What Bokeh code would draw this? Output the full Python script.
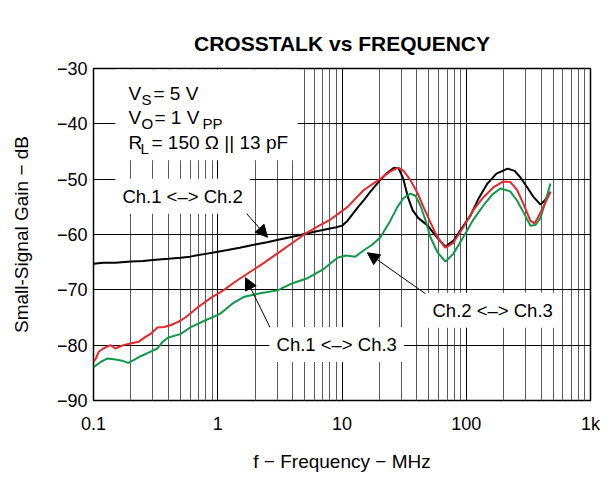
from bokeh.plotting import figure
from bokeh.models import FixedTicker, Label, Arrow, NormalHead, BoxAnnotation, Range1d
from bokeh.embed import file_html
from bokeh.resources import INLINE

# ---- data ----
freq_12 = [0.1, 0.12, 0.15, 0.2, 0.25, 0.3, 0.4, 0.5, 0.6, 0.7, 0.8, 1, 1.2, 1.5, 2, 2.5, 3, 4, 5, 6, 7,
           8, 9, 10, 11, 12, 13.5, 15, 17, 20, 23, 26, 28.5, 31, 34, 37, 41, 49, 58, 68, 79, 90, 108, 125,
           148, 175, 215, 245, 273, 310, 350, 396, 430, 476]
gain_12 = [-65.3, -65.1, -65.1, -64.9, -64.8, -64.6, -64.4, -64.2, -64.0, -63.7, -63.5, -63.1, -62.8, -62.4,
           -61.8, -61.4, -61.0, -60.4, -59.9, -59.5, -59.2, -58.9, -58.7, -58.4, -57.6, -56.5, -55.0, -53.8,
           -52.2, -50.3, -48.9, -48.0, -48.0, -49.8, -53.3, -55.6, -57.0, -58.4, -60.5, -62.2, -61.1, -59.2,
           -56.6, -53.6, -50.8, -49.0, -48.1, -48.5, -49.7, -51.5, -53.3, -54.6, -53.8, -52.3]

freq_13 = [0.1, 0.104, 0.11, 0.12, 0.137, 0.15, 0.165, 0.18, 0.199, 0.23, 0.262, 0.29, 0.327, 0.37, 0.417,
           0.48, 0.55, 0.687, 0.874, 1.11, 1.39, 1.73, 2.29, 3.03, 4.0, 5.27, 6.67, 8.08, 11.1, 14.9, 20.4,
           24.5, 28.4, 31.3, 35.6, 40.5, 45.4, 51.5, 58.6, 68, 78.6, 94.6, 114, 137, 165, 199, 226, 257, 289,
           328, 353, 374, 418, 476]
gain_13 = [-83.0, -82.5, -81.2, -80.6, -80.0, -80.6, -80.2, -79.9, -79.7, -79.4, -78.5, -77.9, -76.8, -76.7,
           -76.4, -75.8, -75.0, -73.2, -71.5, -70.1, -68.5, -67.1, -65.3, -63.4, -61.5, -59.6, -58.3, -57.3,
           -55.0, -52.0, -49.9, -48.6, -47.9, -48.5, -50.2, -52.5, -55.1, -57.8, -60.5, -62.4, -61.5, -58.7,
           -55.6, -53.3, -51.5, -50.4, -50.5, -52.0, -54.5, -57.5, -58.0, -57.1, -55.0, -52.3]

freq_23 = [0.1, 0.104, 0.115, 0.13, 0.15, 0.17, 0.19, 0.21, 0.24, 0.28, 0.327, 0.36, 0.4, 0.5, 0.6, 0.8,
           1.05, 1.31, 1.61, 2.2, 3.03, 4.0, 5.27, 6.95, 9.2, 10.7, 12.8, 14.9, 17.6, 20.4, 24.5, 27.8, 31.3,
           35.6, 39, 42.8, 47, 51.5, 58.6, 68, 78.6, 94.6, 114, 137, 162, 188, 226, 257, 289, 328, 360, 396,
           434, 476]
gain_23 = [-84.0, -83.7, -83.0, -82.4, -82.6, -82.8, -83.2, -82.7, -82.0, -81.3, -80.6, -79.4, -78.6, -78.0,
           -76.8, -75.5, -74.3, -72.5, -71.3, -70.6, -70.1, -68.8, -67.9, -66.4, -64.2, -63.8, -64.0, -62.9,
           -61.8, -60.5, -57.5, -55.1, -53.4, -52.6, -53.0, -54.8, -57.4, -60.5, -63.2, -64.9, -63.5, -60.5,
           -57.3, -54.8, -52.8, -51.7, -52.2, -53.9, -56.0, -58.4, -58.3, -57.0, -54.0, -50.8]

x_ticks = [0.1, 1, 10, 100, 1000]
x_tick_labels = ["0.1", "1", "10", "100", "1k"]
x_minor = [m * d for d in [0.1, 1, 10, 100] for m in range(2, 10)]
y_ticks = [-90, -80, -70, -60, -50, -40, -30]
y_tick_labels = ["\u221290", "\u221280", "\u221270", "\u221260", "\u221250", "\u221240", "\u221230"]

FONT = "Liberation Sans"
RED = "#e8262d"
GREEN = "#10994a"

p = figure(width=600, height=476, x_axis_type="log",
           x_range=Range1d(0.1, 1000), y_range=Range1d(-90, -30),
           output_backend="svg", toolbar_location=None,
           min_border_left=93, min_border_right=10, min_border_top=68, min_border_bottom=76,
           title="CROSSTALK vs FREQUENCY")
p.title.align = "center"
p.title.text_font = FONT
p.title.text_font_size = "21px"
p.title.text_font_style = "bold"
p.title.text_color = "black"
p.title.standoff = 28

p.outline_line_color = "black"
p.outline_line_width = 1.5
p.background_fill_color = "white"
p.border_fill_color = "white"

p.xaxis.ticker = FixedTicker(ticks=x_ticks, minor_ticks=x_minor)
p.yaxis.ticker = FixedTicker(ticks=y_ticks)
p.xaxis.major_label_overrides = dict(zip(x_ticks, x_tick_labels))
p.yaxis.major_label_overrides = dict(zip(y_ticks, y_tick_labels))

for ax in (p.xaxis, p.yaxis):
    ax.axis_line_color = None
    ax.major_tick_line_color = None
    ax.minor_tick_line_color = None
    ax.major_label_text_font = FONT
    ax.major_label_text_font_size = "18px"
    ax.major_label_text_color = "black"
    ax.axis_label_text_font = FONT
    ax.axis_label_text_font_size = "19px"
    ax.axis_label_text_font_style = "normal"
    ax.axis_label_text_color = "black"

p.xaxis.axis_label = "f \u2212 Frequency \u2212 MHz"
p.yaxis.axis_label = "Small-Signal Gain \u2212 dB"
p.xaxis.major_label_standoff = 7
p.yaxis.major_label_standoff = 0
p.xaxis.axis_label_standoff = 14
p.yaxis.axis_label_standoff = 22

p.xgrid.grid_line_color = "black"
p.xgrid.grid_line_width = 1
p.xgrid.minor_grid_line_color = "#5a5a5a"
p.xgrid.minor_grid_line_width = 1
p.ygrid.grid_line_color = "black"
p.ygrid.grid_line_width = 1

p.line(freq_12, gain_12, line_color="black", line_width=2)
p.line(freq_23, gain_23, line_color=GREEN, line_width=2)
p.line(freq_13, gain_13, line_color=RED, line_width=2)

# white box behind the condition text
p.add_layout(BoxAnnotation(left=0.150, right=4.4, top=-30.2, bottom=-46.6,
                           fill_color="white", fill_alpha=1, line_color=None))

# condition text (main text + subscripts)
def txt(s, dx, dy, size="19px"):
    p.add_layout(Label(x=0.1, y=-30, x_offset=dx, y_offset=dy, text=s,
                       text_font=FONT, text_font_size=size, text_color="black",
                       text_baseline="alphabetic", text_align="left"))

txt("V", 35, -25)
txt("S", 48, -31, "15px")
txt("= 5 V", 60, -25)
txt("V", 35, -49)
txt("O", 48, -55, "15px")
txt("= 1 V", 61, -49)
txt("PP", 109, -55, "15px")
txt("R", 35, -74)
txt("L", 47, -80, "15px")
txt("= 150 \u03a9 || 13 pF", 58, -74)

# arrows
head = lambda: NormalHead(size=12, fill_color="black", line_color="black", line_width=1)
p.add_layout(Arrow(end=head(), x_start=1.672, y_start=-56.0, x_end=2.514, y_end=-60.5,
                   line_color="black", line_width=1))
p.add_layout(Arrow(end=head(), x_start=53.5, y_start=-71.6, x_end=16.0, y_end=-63.3,
                   line_color="black", line_width=1))
p.add_layout(Arrow(end=head(), x_start=2.76, y_start=-77.7, x_end=1.672, y_end=-67.8,
                   line_color="black", line_width=1))

def chlabel(s, x, y):
    p.add_layout(Label(x=x, y=y, text=s, text_font=FONT, text_font_size="18.5px",
                       text_color="black", text_baseline="middle", text_align="left",
                       background_fill_color="white", background_fill_alpha=1, padding=7))

chlabel("Ch.1 <\u2013> Ch.2", 0.150, -53.1)
chlabel("Ch.2 <\u2013> Ch.3", 47.0, -73.7)
chlabel("Ch.1 <\u2013> Ch.3", 2.61, -79.9)

open("out.html", "w").write(file_html(p, INLINE))
